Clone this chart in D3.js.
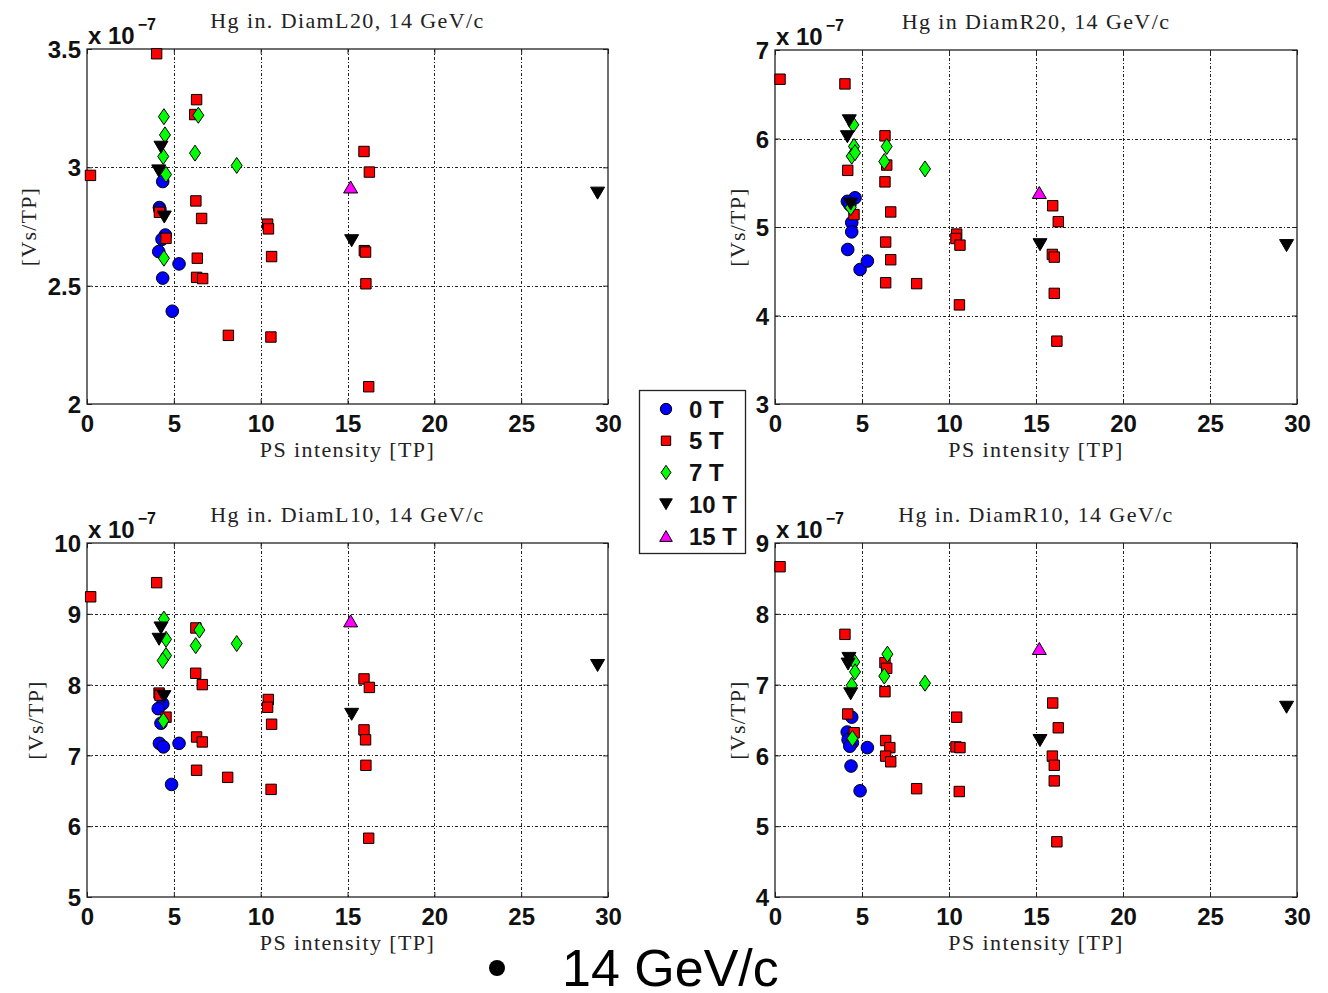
<!DOCTYPE html>
<html><head><meta charset="utf-8">
<script src="https://cdn.jsdelivr.net/npm/d3@7"></script>
<style>body{margin:0;background:#fff}svg{display:block}</style>
</head><body>
<svg id="c" width="1328" height="993"></svg>
<script>
// ---------- data ----------
const seriesNames = ["0 T", "5 T", "7 T", "10 T", "15 T"];
const xTicks = [0, 5, 10, 15, 20, 25, 30];
const panelTitles = ["Hg in. DiamL20, 14 GeV/c", "Hg in DiamR20, 14 GeV/c", "Hg in. DiamL10, 14 GeV/c", "Hg in. DiamR10, 14 GeV/c"];
const yTicksL20 = [2, 2.5, 3, 3.5];
const yTicksR20 = [3, 4, 5, 6, 7];
const yTicksL10 = [5, 6, 7, 8, 9, 10];
const yTicksR10 = [4, 5, 6, 7, 8, 9];

// DiamL20 (values x 1e-7)
const L20_0T = [[4.36,2.94],[4.17,2.83],[4.2,2.82],[4.51,2.714],[4.32,2.696],[4.13,2.644],[5.3,2.592],[4.36,2.532],[4.91,2.392]];
const L20_5T = [[4.01,3.48],[0.2,2.966],[6.31,3.286],[6.2,3.223],[6.27,2.858],[6.6,2.784],[4.17,2.81],[4.55,2.70],[6.35,2.616],[6.31,2.535],[6.66,2.53],[8.14,2.29],[10.4,2.76],[10.45,2.74],[10.63,2.623],[10.59,2.283],[15.95,3.067],[16.26,2.98],[15.97,2.648],[16.04,2.642],[16.06,2.508],[16.22,2.073]];
const L20_7T = [[6.41,3.22],[4.43,3.214],[4.49,3.137],[4.39,3.046],[6.22,3.06],[4.55,2.97],[4.43,2.616],[8.62,3.008]];
const L20_10T = [[4.26,3.085],[4.13,2.985],[4.45,2.79],[15.24,2.69],[29.4,2.891]];
const L20_15T = [[15.18,2.917]];

// DiamR20
const R20_0T = [[4.6,5.33],[4.16,5.29],[4.3,5.25],[4.41,5.05],[4.41,4.945],[4.18,4.746],[4.89,4.52],[5.31,4.615]];
const R20_5T = [[0.29,6.67],[4.02,6.617],[4.18,5.64],[4.54,5.14],[6.32,6.03],[6.42,5.70],[6.32,5.51],[6.65,5.17],[6.36,4.83],[6.65,4.63],[6.36,4.37],[8.14,4.36],[10.44,4.92],[10.4,4.87],[10.63,4.795],[10.6,4.12],[15.96,5.24],[16.28,5.06],[15.94,4.69],[16.05,4.66],[16.05,4.25],[16.2,3.71]];
const R20_7T = [[4.5,6.155],[4.54,5.91],[4.41,5.8],[4.6,5.84],[4.35,5.22],[6.42,5.91],[6.28,5.74],[8.62,5.656]];
const R20_10T = [[4.27,6.2],[4.16,6.02],[4.35,5.26],[15.23,4.8],[29.4,4.79]];
const R20_15T = [[15.19,5.39]];

// DiamL10
const L10_0T = [[4.36,7.73],[4.1,7.66],[4.26,7.455],[4.17,7.17],[4.4,7.12],[5.3,7.17],[4.87,6.59]];
const L10_5T = [[0.21,9.24],[4.01,9.44],[4.15,7.88],[4.2,7.85],[4.55,7.54],[6.27,8.8],[6.26,8.16],[6.64,8.0],[6.31,7.26],[6.64,7.19],[6.31,6.79],[8.1,6.69],[10.44,7.79],[10.4,7.68],[10.63,7.44],[10.6,6.52],[15.95,8.08],[16.26,7.96],[15.95,7.36],[16.04,7.22],[16.06,6.86],[16.22,5.83]];
const L10_7T = [[4.43,8.925],[4.55,8.64],[4.55,8.41],[4.36,8.34],[4.4,7.49],[6.47,8.77],[6.26,8.55],[8.62,8.58]];
const L10_10T = [[4.26,8.8],[4.15,8.64],[4.43,7.83],[15.24,7.58],[29.4,8.27]];
const L10_15T = [[15.18,8.9]];

// DiamR10
const R10_0T = [[4.41,6.54],[4.15,6.33],[4.35,6.25],[4.2,6.22],[4.45,6.18],[4.3,6.13],[4.37,5.85],[5.31,6.11],[4.89,5.50]];
const R10_5T = [[0.29,8.665],[4.02,7.71],[4.18,6.585],[4.55,6.32],[6.32,7.31],[6.42,7.23],[6.32,6.9],[6.36,6.21],[6.6,6.11],[6.36,5.99],[6.65,5.91],[8.14,5.53],[10.44,6.54],[10.4,6.12],[10.63,6.11],[10.59,5.49],[15.96,6.74],[16.28,6.39],[15.94,5.99],[16.05,5.86],[16.05,5.64],[16.2,4.78]];
const R10_7T = [[4.56,7.32],[4.6,7.18],[4.41,6.99],[4.45,6.24],[6.46,7.43],[6.28,7.12],[8.62,7.02]];
const R10_10T = [[4.25,7.37],[4.2,7.29],[4.35,6.87],[15.23,6.21],[29.4,6.68]];
const R10_15T = [[15.19,7.51]];

// ---------- styles ----------
const colors = ["#0000ff", "#ff0000", "#00ff00", "#000000", "#ff00ff"];
const shapes = ["circle", "square", "diamond", "tdown", "tup"];
const SANS = "'Liberation Sans', Arial, sans-serif";
const SERIF = "'Liberation Serif', 'DejaVu Serif', serif";

function markerPath(shape, k) {
  k = k || 1;
  const p = d3.path();
  if (shape === "circle") { p.arc(0, 0, 6.3 * k, 0, 2 * Math.PI); p.closePath(); }
  else if (shape === "square") { const h = 5.2 * k; p.rect(-h, -h, 2 * h, 2 * h); }
  else if (shape === "diamond") { const w = 5.5 * k, h = 8 * k; p.moveTo(0, -h); p.lineTo(w, 0); p.lineTo(0, h); p.lineTo(-w, 0); p.closePath(); }
  else if (shape === "tdown") { const w = 7 * k, h = 6 * k; p.moveTo(-w, -h); p.lineTo(w, -h); p.lineTo(0, h); p.closePath(); }
  else { const w = 7 * k, h = 6 * k; p.moveTo(-w, h); p.lineTo(w, h); p.lineTo(0, -h); p.closePath(); }
  return p.toString();
}

const svg = d3.select("#c");

const panels = [
  { title: panelTitles[0], left: 87, right: 608, top: 49, bottom: 404, yTicks: yTicksL20, series: [L20_0T, L20_5T, L20_7T, L20_10T, L20_15T], ylabX: 28 },
  { title: panelTitles[1], left: 775, right: 1297, top: 50, bottom: 404, yTicks: yTicksR20, series: [R20_0T, R20_5T, R20_7T, R20_10T, R20_15T], ylabX: 737 },
  { title: panelTitles[2], left: 87, right: 608, top: 543, bottom: 897, yTicks: yTicksL10, series: [L10_0T, L10_5T, L10_7T, L10_10T, L10_15T], ylabX: 35 },
  { title: panelTitles[3], left: 775, right: 1297, top: 543, bottom: 897, yTicks: yTicksR10, series: [R10_0T, R10_5T, R10_7T, R10_10T, R10_15T], ylabX: 737 }
];

panels.forEach(pn => {
  const x = d3.scaleLinear().domain([0, 30]).range([pn.left, pn.right]);
  const yd = d3.extent(pn.yTicks);
  const y = d3.scaleLinear().domain(yd).range([pn.bottom, pn.top]);
  const g = svg.append("g");
  const W = pn.right - pn.left, H = pn.bottom - pn.top;

  // grid
  const grid = g.append("g").attr("stroke", "#222").attr("stroke-width", 1).attr("stroke-dasharray", "3,2,1,2");
  grid.selectAll("line.gx").data(xTicks.slice(1, -1)).join("line")
    .attr("x1", d => Math.round(x(d)) + 0.5).attr("x2", d => Math.round(x(d)) + 0.5)
    .attr("y1", pn.top).attr("y2", pn.bottom);
  grid.selectAll("line.gy").data(pn.yTicks.slice(1, -1)).join("line")
    .attr("y1", d => Math.round(y(d)) + 0.5).attr("y2", d => Math.round(y(d)) + 0.5)
    .attr("x1", pn.left).attr("x2", pn.right);

  // axes via d3 axis (bottom + left), ticks inward
  const xa = g.append("g").attr("transform", `translate(0,${pn.bottom})`)
    .call(d3.axisBottom(x).tickValues(xTicks).tickSize(-5).tickFormat(d3.format("d")));
  const ya = g.append("g").attr("transform", `translate(${pn.left},0)`)
    .call(d3.axisLeft(y).tickValues(pn.yTicks).tickSize(-5).tickPadding(6).tickFormat(d => String(d)));
  g.append("g").attr("transform", `translate(0,${pn.top})`)
    .call(d3.axisTop(x).tickValues(xTicks).tickSize(-5).tickFormat(""));
  g.append("g").attr("transform", `translate(${pn.right},0)`)
    .call(d3.axisRight(y).tickValues(pn.yTicks).tickSize(-5).tickFormat(""));
  g.selectAll(".domain").remove();
  g.selectAll(".tick line").attr("stroke", "#222");
  [xa, ya].forEach(a => a.selectAll("text").attr("font-family", SANS).attr("font-size", 24).attr("font-weight", "bold").attr("fill", "#111"));
  xa.selectAll("text").attr("dy", null).attr("y", 28);
  ya.selectAll("text").attr("dy", "0.36em");

  // frame
  g.append("rect").attr("x", pn.left).attr("y", pn.top).attr("width", W).attr("height", H)
    .attr("fill", "none").attr("stroke", "#222").attr("stroke-width", 1.3);

  // exponent
  const ex = g.append("text").attr("x", pn.left + 1).attr("y", pn.top - 5)
    .attr("font-family", SANS).attr("font-size", 24).attr("font-weight", "bold").attr("fill", "#111");
  ex.append("tspan").text("x 10");
  ex.append("tspan").attr("font-size", 16).attr("dx", 3).attr("dy", -14).text("−7");

  // title
  g.append("text").attr("x", (pn.left + pn.right) / 2).attr("y", pn.top - 21)
    .attr("text-anchor", "middle").attr("font-family", SERIF).attr("font-size", 22).attr("letter-spacing", 1.4)
    .attr("fill", "#222").text(pn.title);

  // x label
  g.append("text").attr("x", (pn.left + pn.right) / 2).attr("y", pn.bottom + 53)
    .attr("text-anchor", "middle").attr("font-family", SERIF).attr("font-size", 22).attr("letter-spacing", 1.4)
    .attr("fill", "#222").text("PS intensity [TP]");

  // y label
  g.append("text").attr("transform", `translate(${pn.ylabX},${(pn.top + pn.bottom) / 2}) rotate(-90)`)
    .attr("text-anchor", "middle").attr("dy", "0.35em").attr("font-family", SERIF).attr("font-size", 22).attr("letter-spacing", 1.2)
    .attr("fill", "#222").text("[Vs/TP]");

  // markers
  pn.series.forEach((data, si) => {
    g.append("g").selectAll("path").data(data).join("path")
      .attr("transform", d => `translate(${x(d[0])},${y(d[1])})`)
      .attr("d", markerPath(shapes[si]))
      .attr("fill", colors[si]).attr("stroke", "#000").attr("stroke-width", 1);
  });
});

// legend
const lg = svg.append("g");
lg.append("rect").attr("x", 639.5).attr("y", 390.5).attr("width", 106).attr("height", 163)
  .attr("fill", "#fff").attr("stroke", "#222").attr("stroke-width", 1.3);
const ly = d3.scalePoint().domain(seriesNames).range([409, 536]);
seriesNames.forEach((s, i) => {
  lg.append("path").attr("transform", `translate(666,${ly(s)})`).attr("d", markerPath(shapes[i], 0.9))
    .attr("fill", colors[i]).attr("stroke", "#000").attr("stroke-width", 1);
  lg.append("text").attr("x", 689).attr("y", ly(s)).attr("dy", "0.36em")
    .attr("font-family", SANS).attr("font-size", 24).attr("font-weight", "bold").attr("fill", "#111").text(s);
});

// bottom caption
svg.append("circle").attr("cx", 497).attr("cy", 968).attr("r", 8).attr("fill", "#000");
svg.append("text").attr("x", 562).attr("y", 986).attr("font-family", SANS).attr("font-size", 52).attr("fill", "#000").text("14 GeV/c");
</script>
</body></html>
